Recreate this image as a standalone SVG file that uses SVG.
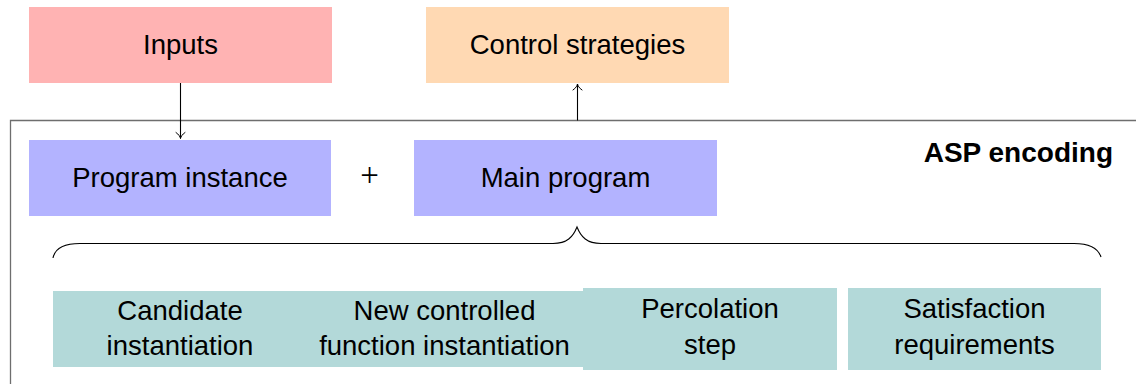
<svg xmlns="http://www.w3.org/2000/svg" width="1136" height="384" viewBox="0 0 1136 384">
  <style>
    .lbl { font-family: "Liberation Sans", Arial, sans-serif; font-size: 27.5px; fill: #000; text-anchor: middle; }
    .op { font-family: "Liberation Serif", "Times New Roman", serif; font-size: 33px; fill: #000; text-anchor: middle; }
    .title { font-family: "Liberation Sans", Arial, sans-serif; font-size: 28px; font-weight: bold; fill: #000; text-anchor: end; }
    .frame { fill: none; stroke: #6e6e6e; stroke-width: 1.3; }
    .conn { fill: none; stroke: #000; stroke-width: 1.1; }
    .inputs { fill: #FFB3B3; }
    .control { fill: #FFD9B3; }
    .blue { fill: #B3B3FF; }
    .teal { fill: #B3D9D9; }
  </style>
  <defs>
    <marker id="tip" viewBox="-8 -6 10 12" markerWidth="10" markerHeight="12" refX="0" refY="0" orient="auto" markerUnits="userSpaceOnUse">
      <path d="M-6,-4.5 C-4,-1.5 -1.5,-0.3 0,0 C-1.5,0.3 -4,1.5 -6,4.5" fill="none" stroke="#000" stroke-width="1" stroke-linecap="round"/>
    </marker>
  </defs>

  <!-- encoding frame, open to the right and bottom -->
  <path class="frame" d="M1136,120.5 H10.5 V384"/>

  <g id="inputs">
    <rect class="inputs" x="29" y="7" width="303" height="76"/>
    <text class="lbl" x="180.5" y="54">Inputs</text>
  </g>
  <g id="control-strategies">
    <rect class="control" x="426" y="7" width="303" height="76"/>
    <text class="lbl" x="577.5" y="54">Control strategies</text>
  </g>

  <g id="asp-encoding-label">
    <text class="title" x="1113" y="162">ASP encoding</text>
  </g>

  <g id="program-instance">
    <rect class="blue" x="29" y="140" width="302" height="76"/>
    <text class="lbl" x="180" y="186.5">Program instance</text>
  </g>
  <g id="plus">
    <text class="op" x="369.5" y="186">+</text>
  </g>
  <g id="main-program">
    <rect class="blue" x="414" y="140" width="303" height="76"/>
    <text class="lbl" x="565.5" y="186.5">Main program</text>
  </g>

  <g id="candidate-instantiation">
    <rect class="teal" x="53" y="291" width="267" height="76"/>
    <text class="lbl" x="180" y="319.5">Candidate</text>
    <text class="lbl" x="180" y="355">instantiation</text>
  </g>
  <g id="new-controlled-function-instantiation">
    <rect class="teal" x="310" y="291" width="273" height="76"/>
    <text class="lbl" x="444.5" y="319.5">New controlled</text>
    <text class="lbl" x="444.5" y="355">function instantiation</text>
  </g>
  <g id="percolation-step">
    <rect class="teal" x="583" y="288" width="254" height="82"/>
    <text class="lbl" x="710" y="318">Percolation</text>
    <text class="lbl" x="710" y="353.5">step</text>
  </g>
  <g id="satisfaction-requirements">
    <rect class="teal" x="848" y="288" width="253" height="82"/>
    <text class="lbl" x="974.5" y="318">Satisfaction</text>
    <text class="lbl" x="974.5" y="353.5">requirements</text>
  </g>

  <g id="connectors">
    <path class="conn" d="M180.5,83 V138.5" marker-end="url(#tip)"/>
    <path class="conn" d="M577.5,120.5 V84" marker-end="url(#tip)"/>
    <path class="conn" d="M53,258 C55,248 64,243.5 80,243.5 H553 C567,243.5 573,237 577,227 C581,237 587,243.5 601,243.5 H1074 C1090,243.5 1098,248 1101,257"/>
  </g>
</svg>
